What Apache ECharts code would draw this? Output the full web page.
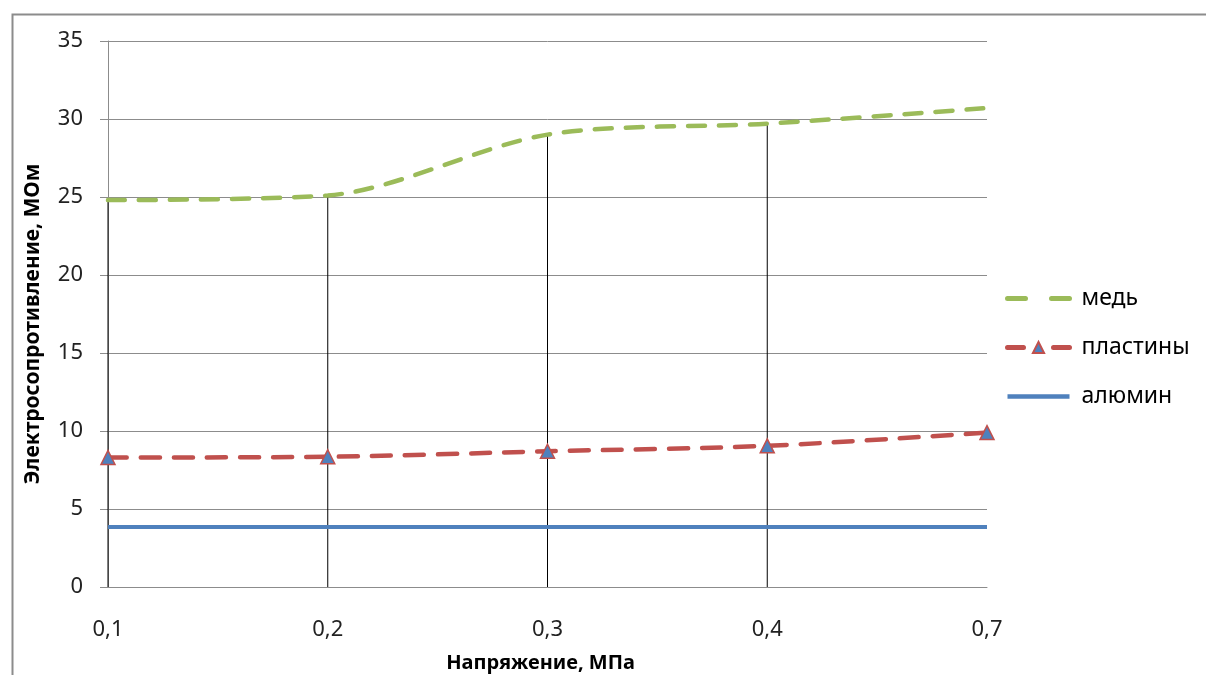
<!DOCTYPE html>
<html>
<head>
<meta charset="utf-8">
<script src="https://cdn.jsdelivr.net/npm/echarts@6/dist/echarts.min.js"></script>
<style>
  html, body { margin: 0; padding: 0; background: #fff; }
  #chart { width: 1206px; height: 675px; }
</style>
</head>
<body>
<div id="chart"></div>
<script>
const categories = ['0,1', '0,2', '0,3', '0,4', '0,7']
const med = [24.8, 25.1, 29.0, 29.7, 30.7]
const plastiny = [8.3, 8.35, 8.7, 9.05, 9.9]
const alumin = [3.85, 3.85, 3.85, 3.85, 3.85]
// drop lines reach the top series; none drawn at the last category
const dropLines = [24.8, 25.1, 29.0, 29.7, '-']
const yTicks = [0, 5, 10, 15, 20, 25, 30, 35]

const font = 'Noto Sans'
const chart = echarts.init(document.getElementById('chart'))

const option = {
  animation: false,
  backgroundColor: '#fff',
  textStyle: { fontFamily: font },
  graphic: [
    {
      type: 'rect',
      left: 10, top: 12,
      shape: { width: 1220, height: 700 },
      style: { fill: 'none', stroke: '#8c8c8c', lineWidth: 2 },
      silent: true
    }
  ],
  grid: { left: 108, right: 219, top: 41, bottom: 88, outerBoundsMode: 'none' },
  legend: {
    orient: 'vertical',
    left: 1000,
    top: 282,
    itemWidth: 62,
    itemHeight: 14,
    itemGap: 26,
    textStyle: { fontFamily: font, fontSize: 23, color: '#000', padding: [0, 0, 0, 7] },
    data: [
      { name: 'медь', itemStyle: { opacity: 0 }, lineStyle: { width: 5, type: [18, 26], cap: 'round' } },
      { name: 'пластины', lineStyle: { width: 5, type: [16, 30], cap: 'round' } },
      { name: 'алюмин', itemStyle: { opacity: 0 }, lineStyle: { width: 4.5 } }
    ]
  },
  xAxis: {
    type: 'category',
    data: categories,
    boundaryGap: false,
    name: 'Напряжение, МПа',
    nameLocation: 'middle',
    nameGap: 66,
    nameMoveOverlap: false,
    nameTextStyle: { fontFamily: font, fontSize: 20, fontWeight: 'bold', color: '#000', padding: [0, 14, 0, 0] },
    axisLine: { lineStyle: { color: '#8c8c8c', width: 1 } },
    axisTick: { show: false },
    axisLabel: { margin: 32, fontSize: 22, color: '#222' },
    splitLine: { show: false }
  },
  yAxis: {
    type: 'value',
    min: yTicks[0],
    max: yTicks[yTicks.length - 1],
    interval: 5,
    name: 'Электросопротивление, МОм',
    nameLocation: 'middle',
    nameGap: 64,
    nameMoveOverlap: false,
    nameTextStyle: { fontFamily: font, fontSize: 21, fontWeight: 'bold', color: '#000', padding: [0, 20, 0, 0] },
    axisLine: { show: true, lineStyle: { color: '#8c8c8c', width: 1 } },
    axisTick: { show: true, length: 8, lineStyle: { color: '#8c8c8c' } },
    axisLabel: { margin: 25, fontSize: 22, color: '#222' },
    splitLine: { lineStyle: { color: '#8c8c8c', width: 1 } }
  },
  series: [
    {
      name: 'drop',
      type: 'bar',
      data: dropLines,
      barWidth: 1,
      itemStyle: { color: '#000' },
      silent: true,
      z: 1,
      legendHoverLink: false
    },
    {
      name: 'медь',
      type: 'line',
      data: med,
      smooth: 0.3,
      symbol: 'none',
      lineStyle: { color: '#9bbb59', width: 4.5, type: [17, 14], cap: 'round' },
      itemStyle: { color: '#9bbb59' },
      z: 3
    },
    {
      name: 'пластины',
      type: 'line',
      data: plastiny,
      smooth: 0.3,
      symbol: 'triangle',
      symbolSize: 14,
      lineStyle: { color: '#c0504d', width: 4.5, type: [19, 14], cap: 'round' },
      itemStyle: { color: '#4f81bd', borderColor: '#c0504d', borderWidth: 1.5 },
      z: 3
    },
    {
      name: 'алюмин',
      type: 'line',
      data: alumin,
      symbol: 'none',
      lineStyle: { color: '#4f81bd', width: 4 },
      itemStyle: { color: '#4f81bd' },
      z: 2
    }
  ]
}

chart.setOption(option)
</script>
</body>
</html>
